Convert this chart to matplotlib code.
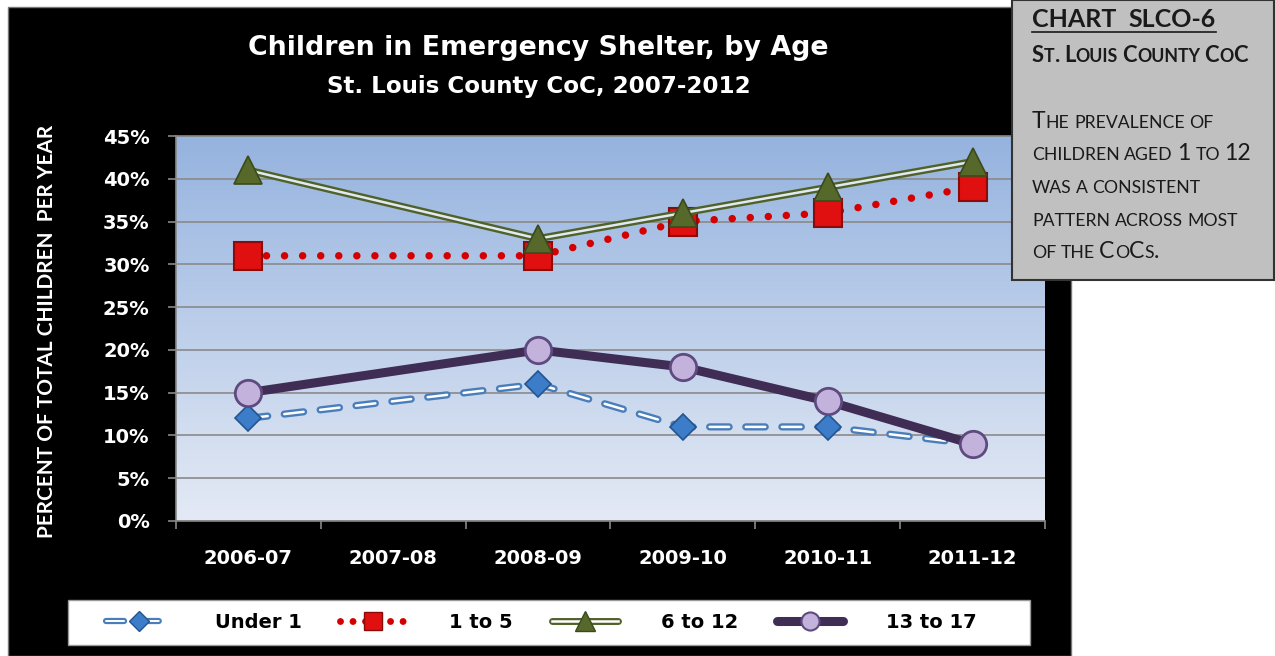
import numpy as np
import matplotlib
matplotlib.use('agg')
import matplotlib.pyplot as plt
from matplotlib.colors import LinearSegmentedColormap
from matplotlib.lines import Line2D
from matplotlib.patches import Rectangle
from matplotlib.legend_handler import HandlerTuple

plt.rcParams['font.family'] = ['Lato', 'DejaVu Sans']
plt.rcParams['lines.scale_dashes'] = False
WIDE = 'DejaVu Sans'   # wide face, close to the stretched Calibri of the chart

# data (percent of total children per year)
years = ['2006-07', '2007-08', '2008-09', '2009-10', '2010-11', '2011-12']
x_pos = [0, 2, 3, 4, 5]          # no value for 2007-08
under_1 = [12, 16, 11, 11, 9]
age_1_5 = [31, 31, 35, 36, 39]
age_6_12 = [41, 33, 36, 39, 42]
age_13_17 = [15, 20, 18, 14, 9]
labels = ['Under 1', '1 to 5', '6 to 12', '13 to 17']

W, H = 1275, 656
fig = plt.figure(figsize=(W / 100, H / 100), dpi=100)


def fx(p):
    return p / W


def fy(p):
    return 1 - p / H


# black chart background
fig.patches.append(Rectangle((fx(8), 0), fx(1071) - fx(8), fy(7), transform=fig.transFigure,
                             facecolor='black', edgecolor='#777777', lw=1, zorder=-2))

ax = fig.add_axes([fx(176), fy(521), (1045 - 176) / W, (521 - 136) / H])
bg = LinearSegmentedColormap.from_list('bg', ['#95b3df', '#e4eaf5'])
ax.imshow(np.linspace(0, 1, 256).reshape(-1, 1), cmap=bg, extent=[0, 1, 0, 1],
          transform=ax.transAxes, aspect='auto', zorder=0)

# Under 1 : dashed double line, blue diamonds
ax.plot(x_pos, under_1, color='#4a7ebb', lw=5.2, ls=(0, (14, 12)), dash_capstyle='round', zorder=3)
ax.plot(x_pos, under_1, color='white', lw=1.8, ls=(0, (14, 12)), dash_capstyle='round', zorder=3.1)
ax.plot(x_pos, under_1, ls='none', marker='D', ms=13.5, mfc='#3d7cc9', mec='#24548f', mew=1.2, zorder=3.2)

# 1 to 5 : red round dots, red squares
ax.plot(x_pos, age_1_5, color='#d40000', lw=5.4, ls=(0, (0.01, 13)), dash_capstyle='round', zorder=4)
ax.plot(x_pos, age_1_5, ls='none', marker='s', ms=20, mfc='#e01010', mec='#8b0a0a', mew=1.5, zorder=4.2)

# 6 to 12 : double green line, green triangles
ax.plot(x_pos, age_6_12, color='#4f6228', lw=5.2, solid_capstyle='butt', zorder=5)
ax.plot(x_pos, age_6_12, color='#e2e9f3', lw=1.8, solid_capstyle='butt', zorder=5.1)
ax.plot(x_pos, age_6_12, ls='none', marker='^', ms=20, mfc='#56692a', mec='#3b4a1c', mew=1.2, zorder=5.2)

# 13 to 17 : thick purple line, lilac circles
ax.plot(x_pos, age_13_17, color='#3f2d56', lw=6.5, zorder=6)
ax.plot(x_pos, age_13_17, ls='none', marker='o', ms=19, mfc='#c3b3dc', mec='#5f4a80', mew=2, zorder=6.2)

ax.set_xlim(-0.5, 5.5)
ax.set_ylim(0, 45)

yt = list(range(0, 46, 5))
ax.set_yticks(yt, labels=[f'{v}%' for v in yt], fontweight='bold', color='white', fontsize=14,
              family=WIDE)
ax.set_xticks(range(len(years)), labels=years, fontweight='bold', color='white', fontsize=14,
              family=WIDE)
ax.set_xticks(np.arange(-0.5, 6, 1), minor=True)
ax.tick_params(axis='y', colors='#888888', labelcolor='white', length=6, width=1.2, pad=13)
ax.tick_params(axis='x', which='major', length=0, pad=20, labelcolor='white')
ax.tick_params(axis='x', which='minor', colors='#888888', length=6, width=1.2)
ax.grid(axis='y', color='#8a8a8a', lw=1.2)
ax.set_axisbelow(True)
for s in ['left', 'bottom', 'top']:
    ax.spines[s].set_color('#888888')
    ax.spines[s].set_linewidth(1.2)
ax.spines['right'].set_visible(False)

fig.text(fx(538), fy(48), 'Children in Emergency Shelter, by Age', ha='center', va='center',
         color='white', fontsize=19.3, fontweight='bold', family=WIDE)
fig.text(fx(539), fy(87), 'St. Louis County CoC, 2007-2012', ha='center', va='center',
         color='white', fontsize=16.6, fontweight='bold', family=WIDE)
fig.text(fx(47), fy(331), 'PERCENT OF TOTAL CHILDREN  PER YEAR', rotation=90, ha='center', va='center',
         color='white', fontsize=15, fontweight='bold')

# legend
fig.patches.append(Rectangle((fx(68), fy(645)), (1030 - 68) / W, 45 / H, transform=fig.transFigure,
                             facecolor='white', edgecolor='#999999', lw=1, zorder=1))
h1 = (Line2D([], [], color='#4a7ebb', lw=4.5, ls=(0, (13, 12)), dash_capstyle='round'),
      Line2D([], [], color='white', lw=1.4, ls=(0, (13, 12)), dash_capstyle='round'),
      Line2D([], [], ls='none', marker='D', ms=10, mfc='#3d7cc9', mec='#24548f'))
h2 = (Line2D([], [], color='#d40000', lw=5, ls=(0, (0.01, 9)), dash_capstyle='round'),
      Line2D([], [], ls='none', marker='s', ms=13, mfc='#e01010', mec='#8b0a0a'))
h3 = (Line2D([], [], color='#4f6228', lw=5, solid_capstyle='round'),
      Line2D([], [], color='white', lw=1.8),
      Line2D([], [], ls='none', marker='^', ms=14, mfc='#56692a', mec='#3b4a1c'))
h4 = (Line2D([], [], color='#3f2d56', lw=6.5, solid_capstyle='round'),
      Line2D([], [], ls='none', marker='o', ms=13, mfc='#c3b3dc', mec='#5f4a80', mew=1.5))
leg = fig.legend([h1, h2, h3, h4], labels, handler_map={tuple: HandlerTuple(ndivide=1, pad=0)},
                 ncol=4, loc='center', bbox_to_anchor=(fx(541), fy(622)), frameon=False,
                 prop={'family': WIDE, 'weight': 'bold', 'size': 14},
                 handlelength=3.4, handletextpad=2.2, columnspacing=2.0)
leg.set_zorder(2)

# side note box with small caps text
fig.patches.append(Rectangle((fx(1012), fy(280)), (1274 - 1012) / W, 280 / H, transform=fig.transFigure,
                             facecolor='#c0c0c0', edgecolor='#333333', lw=1.5, zorder=5))
renderer = fig.canvas.get_renderer()


def text_w(s, size, weight):
    t = fig.text(0, 0, s, fontsize=size, fontweight=weight)
    w = t.get_window_extent(renderer).width
    t.remove()
    return w


def caps_line(x, y, text, big, small, weight='normal'):
    runs = []
    for ch in text:
        kind = 'sp' if ch == ' ' else ('small' if ch.islower() else 'big')
        if runs and runs[-1][0] == kind:
            runs[-1][1] += ch
        else:
            runs.append([kind, ch])
    sp = text_w('x x', small, weight) - text_w('xx', small, weight)
    cur = x
    for kind, s in runs:
        if kind == 'sp':
            cur += sp * len(s)
            continue
        size = small if kind == 'small' else big
        t = fig.text(fx(cur), fy(y), s.upper(), fontsize=size, fontweight=weight, ha='left',
                     va='baseline', color='#1a1a1a', zorder=6)
        cur += t.get_window_extent(renderer).width
    return cur


end = caps_line(1032, 27, 'CHART  SLCO-6', 18, 18, 'bold')
fig.add_artist(Line2D([fx(1032), fx(end)], [fy(32), fy(32)], color='#1a1a1a', lw=1.2, zorder=6))
caps_line(1032, 62, 'St. Louis County CoC', 15.8, 12.8, 'bold')
body = ['The prevalence of', 'children aged 1 to 12', 'was a consistent',
        'pattern across most', 'of the CoCs.']
for i, line in enumerate(body):
    caps_line(1032, 128 + i * 32.5, line, 16.6, 12.7)

plt.savefig('out.png', dpi=100)
